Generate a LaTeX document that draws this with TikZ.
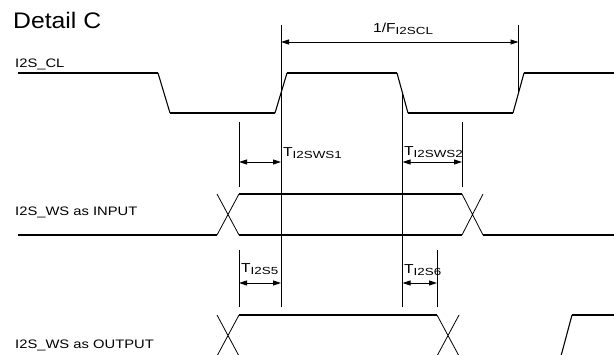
\documentclass[tikz,border=0pt]{standalone}
\usepackage{fontspec}
\setmainfont{Liberation Sans}[FakeStretch=1.2]
\newfontfamily\titlefont{Liberation Sans}[FakeStretch=1.1]
\newfontfamily\subfont{Liberation Sans}[FakeStretch=1.3]
\usetikzlibrary{arrows.meta}
\newcommand\tlab[2]{{\fontsize{13}{13}\selectfont #1}\raisebox{-0.45ex}{\subfont\fontsize{10.3}{10.3}\selectfont #2}}
\tikzset{
  sig/.style={line width=1.9pt},
  edge/.style={line width=1.1pt},
  cross/.style={line width=0.8pt},
  dim/.style={line width=0.9pt},
  dimarrow/.style={line width=0.9pt,{Triangle[length=8pt,width=5pt]}-{Triangle[length=8pt,width=5pt]}},
  lab/.style={inner sep=0pt,anchor=base west,font=\fontsize{12.3}{13}\selectfont},
}
\begin{document}
\begin{tikzpicture}[x=1pt,y=-1pt]
\useasboundingbox (0,0) rectangle (614,354);
\clip (0,0) rectangle (614,354);
% labels
\node[inner sep=0pt,anchor=base west,font=\titlefont\fontsize{22.5}{24}\selectfont] (title) at (13,28) {Detail C};
\node[lab] (lcl) at (15,67) {I2S\_CL};
\node[lab] (lin) at (15,215) {I2S\_WS as INPUT};
\node[lab] (lout) at (15,348) {I2S\_WS as OUTPUT};
% clock
\draw[sig] (18,73) -- (158,73);
\draw[edge] (158,73) -- (170,113);
\draw[sig] (170,113) -- (275,113);
\draw[edge] (275,113) -- (287,73);
\draw[sig] (287,73) -- (397,73);
\draw[edge] (397,73) -- (408,113);
\draw[sig] (408,113) -- (513,113);
\draw[edge] (513,113) -- (524,73);
\draw[sig] (524,73) -- (614,73);
% WS input
\draw[sig] (18,235) -- (217,235);
\draw[cross] (217,235) -- (239,194) (217,194) -- (239,235);
\draw[sig] (239,194) -- (462,194) (239,235) -- (462,235);
\draw[cross] (462,194) -- (483,235) (462,235) -- (483,194);
\draw[sig] (483,235) -- (614,235);
% WS output
\draw[cross] (217,315) -- (239,356) (217,356) -- (239,315);
\draw[sig] (239,315) -- (437,315);
\draw[cross] (437,315) -- (459,356) (437,356) -- (459,315);
\draw[edge] (561,356) -- (572,315);
\draw[sig] (572,315) -- (614,315);
% reference lines
\coordinate (a1) at (239,122); \coordinate (a2) at (239,187);
\coordinate (b1) at (239,250); \coordinate (b2) at (239,307);
\coordinate (c1) at (281,25);  \coordinate (c2) at (281,307);
\coordinate (d1) at (402.5,92); \coordinate (d2) at (402.5,307);
\coordinate (e1) at (462,122); \coordinate (e2) at (462,187);
\coordinate (f1) at (437,250); \coordinate (f2) at (437,307);
\coordinate (g1) at (518.5,25); \coordinate (g2) at (518.5,92);
\draw[dim] (a1) -- (a2) (b1) -- (b2) (c1) -- (c2) (d1) -- (d2)
           (e1) -- (e2) (f1) -- (f2) (g1) -- (g2);
% dimension arrows
\draw[dimarrow] (281,42) -- (518.5,42);
\draw[dimarrow] (239,162) -- (281,162);
\draw[dimarrow] (402.5,162) -- (462,162);
\draw[dimarrow] (239,283) -- (281,283);
\draw[dimarrow] (402.5,283) -- (437,283);
% dimension labels
\node[inner sep=0pt,anchor=base west] (tf) at (373,32) {\tlab{1/F}{I2SCL}};
\node[inner sep=0pt,anchor=base west] (t1) at (283,156) {\tlab{T}{I2SWS1}};
\node[inner sep=0pt,anchor=base west] (t2) at (404,155) {\tlab{T}{I2SWS2}};
\node[inner sep=0pt,anchor=base west] (t5) at (241,272) {\tlab{T}{I2S5}};
\node[inner sep=0pt,anchor=base west] (t6) at (404,273) {\tlab{T}{I2S6}};
\end{tikzpicture}
\end{document}
